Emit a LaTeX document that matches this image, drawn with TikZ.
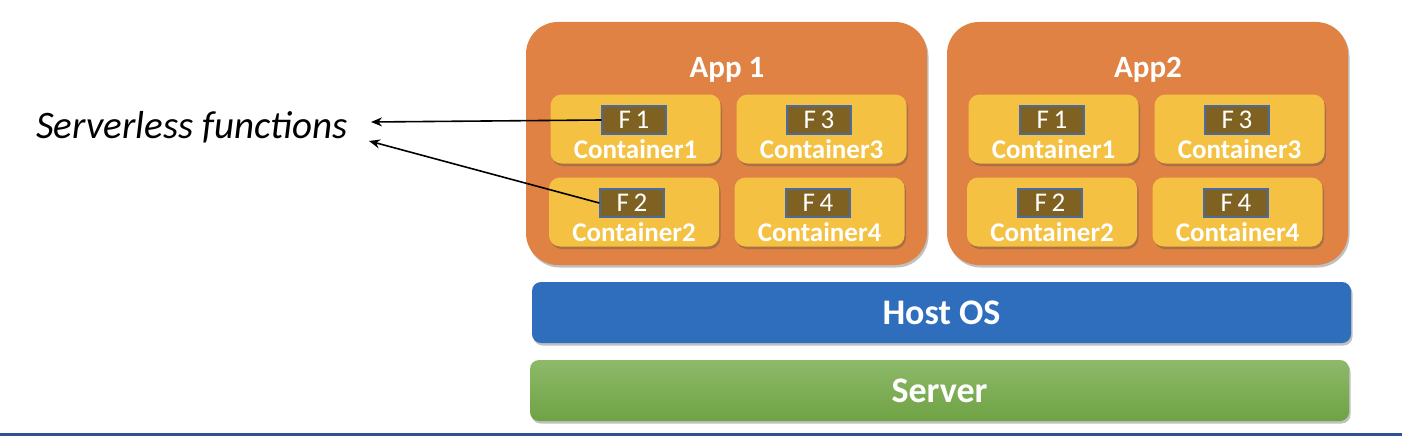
\documentclass[tikz,border=0pt]{standalone}
\usepackage{fontspec}
\setmainfont{Carlito}
\usetikzlibrary{shadows,arrows.meta}
\definecolor{apporange}{HTML}{DF8244}
\definecolor{contyellow}{HTML}{F4C142}
\definecolor{fbrown}{HTML}{7F6121}
\definecolor{fborder}{HTML}{4A6BA0}
\definecolor{hostblue}{HTML}{2E6EBC}
\definecolor{srvtop}{HTML}{8DB969}
\definecolor{srvbot}{HTML}{6FA244}
\definecolor{lineblue}{HTML}{2F5092}
\tikzset{
  shd/.style={drop shadow={shadow xshift=1.5pt,shadow yshift=-2.5pt,opacity=0.35,fill=black!70}},
  appbox/.style={fill=apporange,rounded corners=32pt,minimum width=401pt,minimum height=243pt,shd,inner sep=0pt},
  apptitle/.style={text=white,font=\fontsize{31}{33}\selectfont\bfseries},
  contbox/.style={fill=contyellow,rounded corners=11pt,minimum width=170pt,minimum height=69pt,shd,inner sep=0pt},
  fbox/.style={fill=fbrown,draw=fborder,line width=1.3pt,minimum width=64pt,minimum height=28pt,inner sep=0pt,text=white,font=\fontsize{27}{28}\selectfont},
  contlabel/.style={text=white,font=\fontsize{27}{29}\selectfont\bfseries,inner sep=0pt},
  layer/.style={rounded corners=9pt,minimum width=819pt,minimum height=61pt,shd,inner sep=0pt,text=white,font=\fontsize{36}{38}\selectfont\bfseries},
  arr/.style={-{Stealth[length=11pt,width=9pt]},line width=1.6pt,black}
}
\begin{document}
\begin{tikzpicture}[x=1pt,y=-1pt]
\useasboundingbox (0,0) rectangle (1402,436);
\fill[white] (0,0) rectangle (1402,436);
% apps
\node[appbox] (app1) at (726.5,143.5) {};
\node[appbox] (app2) at (1147.5,143.5) {};
\node[apptitle] (t1) at (727,70) {App 1};
\node[apptitle] (t2) at (1148,70) {App2};
% containers
\foreach \a/\dx in {1/0,2/418}{
  \node[contbox] (a\a c1) at (635.5+\dx,129) {};
  \node[contbox] (a\a c3) at (821.5+\dx,129) {};
  \node[contbox] (a\a c2) at (634+\dx,212) {};
  \node[contbox] (a\a c4) at (819.5+\dx,212) {};
  \node[fbox] (a\a f1) at (634+\dx,120) {F\,1};
  \node[fbox] (a\a f3) at (819+\dx,120) {F\,3};
  \node[fbox] (a\a f2) at (632+\dx,203) {F\,2};
  \node[fbox] (a\a f4) at (818+\dx,203) {F\,4};
  \node[contlabel] (a\a l1) at (635.5+\dx,149) {Container1};
  \node[contlabel] (a\a l3) at (821.5+\dx,149) {Container3};
  \node[contlabel] (a\a l2) at (634+\dx,232) {Container2};
  \node[contlabel] (a\a l4) at (819.5+\dx,232) {Container4};
}
% layers
\node[layer,fill=hostblue] (host) at (941.5,312.5) {Host OS};
\node[layer,top color=srvtop,bottom color=srvbot] (server) at (939.5,390.5) {Server};
% label
\node[font=\fontsize{39}{41}\selectfont\itshape,inner sep=0pt] (sf) at (192,127) {Serverless functions};
\coordinate (e1) at (371,122);
\coordinate (e2) at (369,141);
\draw[arr] (a1f1.west) -- (e1);
\draw[arr] (a1f2.west) -- (e2);
% bottom rule
\draw[lineblue,line width=3pt] (0,434.5) -- (1402,434.5);
\end{tikzpicture}
\end{document}
